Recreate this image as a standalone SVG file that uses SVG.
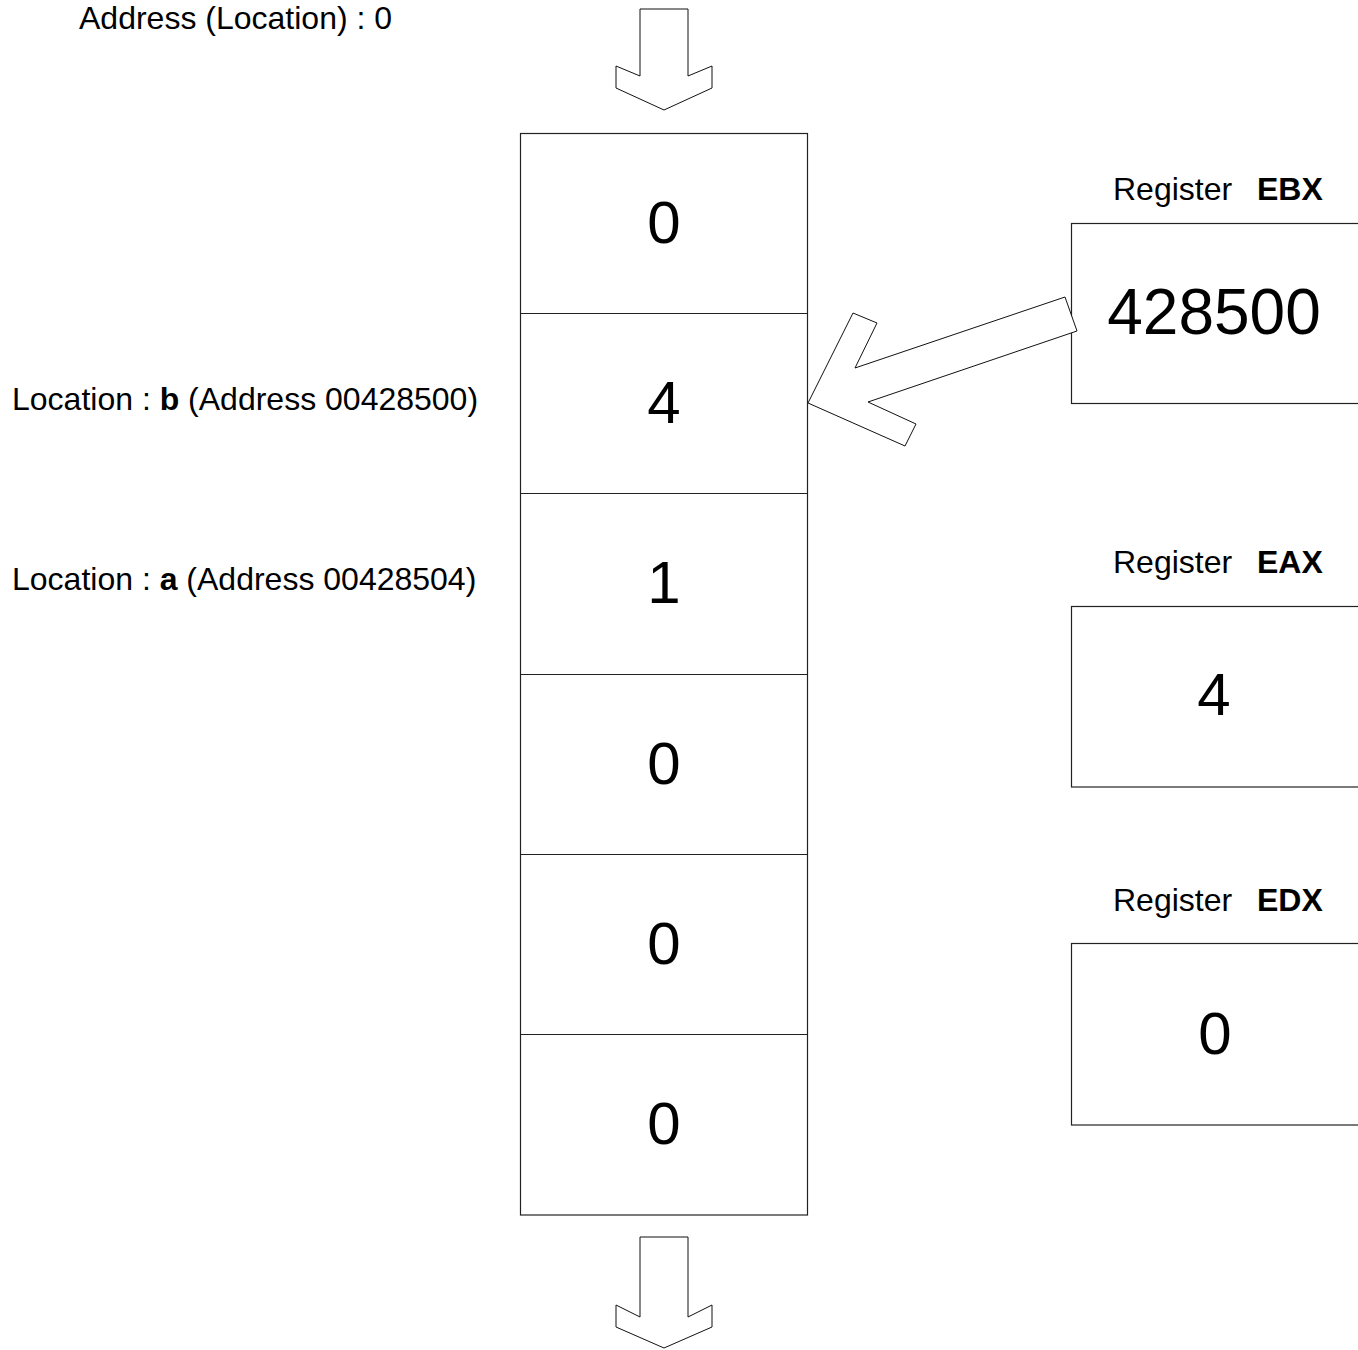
<svg xmlns="http://www.w3.org/2000/svg" width="1358" height="1350" viewBox="0 0 1358 1350">
<style>
  text { font-family: "Liberation Sans", Arial, sans-serif; fill: #000; }
  .lbl { font-size: 32px; }
  .cell { font-size: 60px; text-anchor: middle; }
  .box { fill: #fff; stroke: #222; stroke-width: 1.2; }
  .div { stroke: #222; stroke-width: 1.2; }
  .arr { fill: #fff; stroke: #111; stroke-width: 1; stroke-linejoin: miter; }
  .b { font-weight: bold; }
</style>
<rect width="1358" height="1350" fill="#fff"/>

<g id="address-label">
  <text class="lbl" x="79" y="29">Address (Location) : 0</text>
</g>

<g id="arrow-in">
  <polygon class="arr" points="640,9 688,9 688,76 712,66 712,88 664,110 616,88 616,66 640,76"/>
</g>

<g id="memory">
  <rect class="box" x="520.5" y="133.5" width="287" height="1081.5"/>
  <line class="div" x1="520.5" y1="313.5" x2="807.5" y2="313.5"/>
  <line class="div" x1="520.5" y1="493.5" x2="807.5" y2="493.5"/>
  <line class="div" x1="520.5" y1="674.5" x2="807.5" y2="674.5"/>
  <line class="div" x1="520.5" y1="854.5" x2="807.5" y2="854.5"/>
  <line class="div" x1="520.5" y1="1034.5" x2="807.5" y2="1034.5"/>
</g>
<g id="cell-0"><text class="cell" x="664" y="243">0</text></g>
<g id="cell-b"><text class="cell" x="664" y="423">4</text></g>
<g id="cell-a"><text class="cell" x="664" y="603">1</text></g>
<g id="cell-3"><text class="cell" x="664" y="784">0</text></g>
<g id="cell-4"><text class="cell" x="664" y="964">0</text></g>
<g id="cell-5"><text class="cell" x="664" y="1144">0</text></g>

<g id="label-b">
  <text class="lbl" x="12" y="410">Location : <tspan class="b">b</tspan> (Address 00428500)</text>
</g>
<g id="label-a">
  <text class="lbl" x="12" y="590">Location : <tspan class="b">a</tspan> (Address 00428504)</text>
</g>

<g id="arrow-out">
  <polygon class="arr" points="640,1237 688,1237 688,1317 712,1305 712,1327 664,1348 616,1327 616,1305 640,1317"/>
</g>

<g id="reg-ebx">
  <text class="lbl" x="1113" y="200">Register <tspan class="b" x="1257">EBX</tspan></text>
  <rect class="box" x="1071.5" y="223.5" width="300" height="180"/>
  <text style="font-size:64px;text-anchor:middle" x="1214" y="334">428500</text>
</g>

<g id="reg-eax">
  <text class="lbl" x="1113" y="573">Register <tspan class="b" x="1257">EAX</tspan></text>
  <rect class="box" x="1071.5" y="606.5" width="300" height="180.5"/>
  <text class="cell" x="1214" y="715">4</text>
</g>

<g id="reg-edx">
  <text class="lbl" x="1113" y="911">Register <tspan class="b" x="1257">EDX</tspan></text>
  <rect class="box" x="1071.5" y="943.5" width="300" height="181.5"/>
  <text class="cell" x="1215" y="1054">0</text>
</g>

<g id="connectors">
  <polygon class="arr" points="808,403 853,313 877,323 855,368 1065,297 1077,331 868,402 916,424 905,446"/>
</g>
</svg>
